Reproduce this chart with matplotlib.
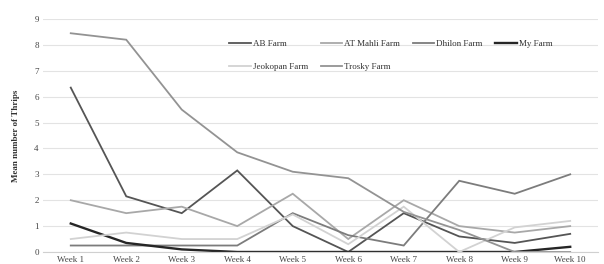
import matplotlib
matplotlib.use('Agg')
import matplotlib.pyplot as plt

weeks = ['Week 1', 'Week 2', 'Week 3', 'Week 4', 'Week 5',
         'Week 6', 'Week 7', 'Week 8', 'Week 9', 'Week 10']

ab_farm = [6.35, 2.15, 1.5, 3.15, 1.0, 0.0, 1.5, 0.6, 0.35, 0.7]
at_mahli = [2.0, 1.5, 1.75, 1.0, 2.25, 0.5, 2.0, 1.0, 0.75, 1.0]
dhilon = [0.25, 0.25, 0.25, 0.25, 1.5, 0.65, 0.25, 2.75, 2.25, 3.0]
my_farm = [1.1, 0.35, 0.1, 0.0, 0.0, 0.0, 0.0, 0.0, 0.0, 0.2]
jeokopan = [0.5, 0.75, 0.5, 0.5, 1.45, 0.3, 1.75, 0.0, 0.95, 1.2]
trosky = [8.45, 8.2, 5.5, 3.85, 3.1, 2.85, 1.55, 0.85, 0.0, 0.0]

plt.rcParams['font.family'] = ['Liberation Serif', 'DejaVu Serif']

fig = plt.figure(figsize=(6.04, 2.64), dpi=100)
ax = fig.add_axes([0.0712, 0.0455, 0.9188, 0.8825])

x = range(len(weeks))
series = [
    ('AB Farm', ab_farm, '#555555', 1.3),
    ('AT Mahli Farm', at_mahli, '#a8a8a8', 1.3),
    ('Dhilon Farm', dhilon, '#7c7c7c', 1.3),
    ('My Farm', my_farm, '#262626', 1.7),
    ('Jeokopan Farm', jeokopan, '#d2d2d2', 1.3),
    ('Trosky Farm', trosky, '#939393', 1.3),
]
handles = {}
for name, vals, col, lw in series:
    h, = ax.plot(x, vals, color=col, lw=lw, solid_joinstyle='miter')
    handles[name] = h

ax.set_xlim(-0.5, 9.5)
ax.set_ylim(0, 9)
ax.set_yticks(range(10))
ax.set_xticks(list(x))
ax.set_xticklabels(weeks)
ax.tick_params(length=0, labelsize=6.5, labelcolor='#444444', pad=3)
ax.grid(axis='y', color='#e3e3e3', lw=0.8)
ax.set_axisbelow(True)
for s in ['top', 'right', 'left']:
    ax.spines[s].set_visible(False)
ax.spines['bottom'].set_color('#d0d0d0')

ax.set_ylabel('Mean number of Thrips', fontsize=6.5, fontweight='bold',
              color='#333333', labelpad=10)

# legend fills column by column, so order it to read row-wise like the original
order = ['AB Farm', 'Jeokopan Farm', 'AT Mahli Farm', 'Trosky Farm',
         'Dhilon Farm', 'My Farm']
leg = ax.legend([handles[n] for n in order], order, ncol=4, loc='upper left',
                bbox_to_anchor=(0.329, 0.925), frameon=False, fontsize=6.5,
                handlelength=2.4, handletextpad=0.25, columnspacing=1.35,
                labelspacing=1.6, borderaxespad=0)
for t in leg.get_texts():
    t.set_color('#333333')

fig.savefig('out.png', dpi=100)
